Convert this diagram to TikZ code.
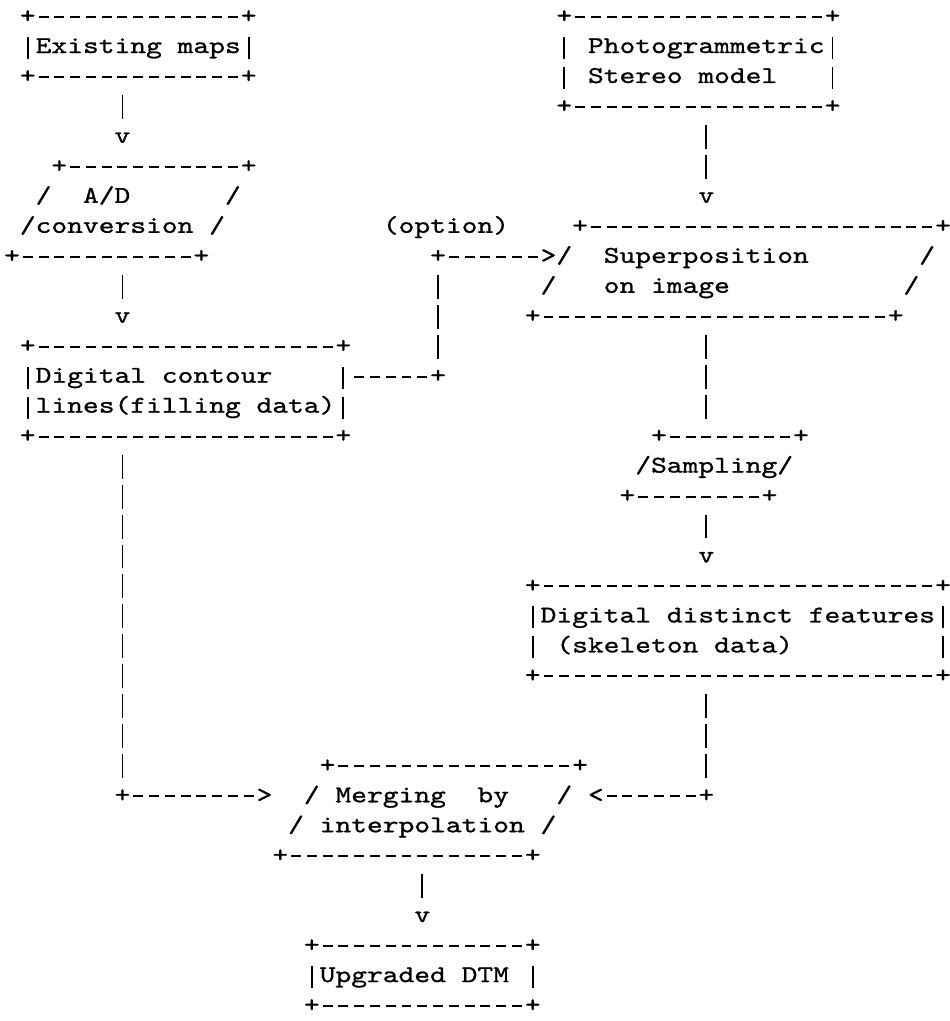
\documentclass[tikz,border=0pt]{standalone}
\usepackage{fontspec}
\setmonofont{lmmono10-regular.otf}[FakeStretch=1.25,FakeBold=1]
\newcommand\rs{\rule[-4.475pt]{0pt}{14.985pt}}
\newcommand\hl[1]{\foreach\x in {1,...,#1}{\makebox[7.89pt]{\rule[2.5pt]{4.97pt}{1pt}}}}
\newcommand\vb{\makebox[7.89pt]{\rule[-3pt]{0.95pt}{11pt}}}
\tikzset{
  tty/.style={font=\ttfamily\fontsize{12.02pt}{14.985pt}\selectfont},
  asciibox/.style={tty, inner sep=0pt, outer xsep=0pt, outer ysep=1.4985pt, align=left, anchor=north west},
  glyph/.style={tty, inner sep=0pt, outer sep=0pt, text height=12.01pt, text depth=5.97pt, anchor=base},
  vconn/.style={line width=0.95pt, dash pattern=on 11.99pt off 3pt},
  hconn/.style={line width=1pt, dash pattern=on 4.97pt off 2.92pt, shorten <=1.46pt},
}
\begin{document}
\begin{tikzpicture}[x=7.89pt,y=-14.985pt]
\useasboundingbox (-0.7605,-0.567) rectangle (59.379,33.5);

% Boxes
\node[asciibox] (exist) at (0.5,-0.6) {\rs+\hl{13}+\\ \rs\vb Existing~maps\vb\\ \rs+\hl{13}+};
\node[asciibox] (ad) at (-0.5,4.4) {\rs~~~+\hl{11}+\\ \rs~~/~~A/D~~~~~~/\\ \rs~/conversion~/\\ \rs+\hl{11}+};
\node[asciibox] (contour) at (0.5,10.4) {\rs+\hl{19}+\\ \rs\vb Digital~contour~~~~\vb\\ \rs\vb lines(filling~data)\vb\\ \rs+\hl{19}+};
\node[asciibox] (photo) at (34.5,-0.6) {\rs+\hl{16}+\\ \rs\vb~Photogrammetric\vb\\ \rs\vb~Stereo~model~~~\vb\\ \rs+\hl{16}+};
\node[asciibox] (super) at (32.5,6.4) {\rs~~~+\hl{22}+\\ \rs~~/~~Superposition~~~~~~~/\\ \rs~/~~~on~image~~~~~~~~~~~/\\ \rs+\hl{22}+};
\node[asciibox] (samp) at (38.5,13.4) {\rs~~+\hl{8}+\\ \rs~/Sampling/\\ \rs+\hl{8}+};
\node[asciibox] (distinct) at (32.5,18.4) {\rs+\hl{25}+\\ \rs\vb Digital~distinct~features\vb\\ \rs\vb~(skeleton~data)~~~~~~~~~\vb\\ \rs+\hl{25}+};
\node[asciibox] (merge) at (16.5,24.4) {\rs~~~+\hl{15}+\\ \rs~~/~Merging~~by~~~/\\ \rs~/~interpolation~/\\ \rs+\hl{15}+};
\node[asciibox] (dtm) at (18.5,30.4) {\rs+\hl{13}+\\ \rs\vb Upgraded~DTM~\vb\\ \rs+\hl{13}+};

% Text Node
\node[glyph] (opt) at (27.5,7.2) {(option)};

% Arrow heads and corners
\node[glyph] (va) at (7,4.2) {v};
\node[glyph] (vb) at (7,10.2) {v};
\node[glyph] (vc) at (44,6.2) {v};
\node[glyph] (ve) at (44,18.2) {v};
\node[glyph] (vi) at (26,30.2) {v};
\node[glyph] (hb) at (27,12.2) {+};
\node[glyph] (ha) at (27,8.2) {+};
\node[glyph] (ga) at (34,8.2) {>};
\node[glyph] (gl) at (7,26.2) {+};
\node[glyph] (gr) at (16,26.2) {>};
\node[glyph] (fr) at (44,26.2) {+};
\node[glyph] (fl) at (37,26.2) {<};

% Connectors
\draw[vconn] (exist.south -| va) -- (va.north);
\draw[vconn] (ad.south -| vb) -- (vb.north);
\draw[vconn] (photo.south -| vc) -- (vc.north);
\draw[vconn] (super.south -| vc) -- (samp.north -| vc);
\draw[vconn] (samp.south -| ve) -- (ve.north);
\draw[vconn] (distinct.south -| fr) -- (fr.north);
\draw[hconn] (fr.west) -- (fl.east);
\draw[vconn] (contour.south -| gl) -- (gl.north);
\draw[hconn] (gl.east) -- (gr.west);
\draw[hconn] (contour.east |- hb) -- (hb.west);
\draw[vconn] (hb.north) -- (ha.south);
\draw[hconn] (ha.east) -- (ga.west);
\draw[vconn] (merge.south -| vi) -- (vi.north);

\end{tikzpicture}
\end{document}
